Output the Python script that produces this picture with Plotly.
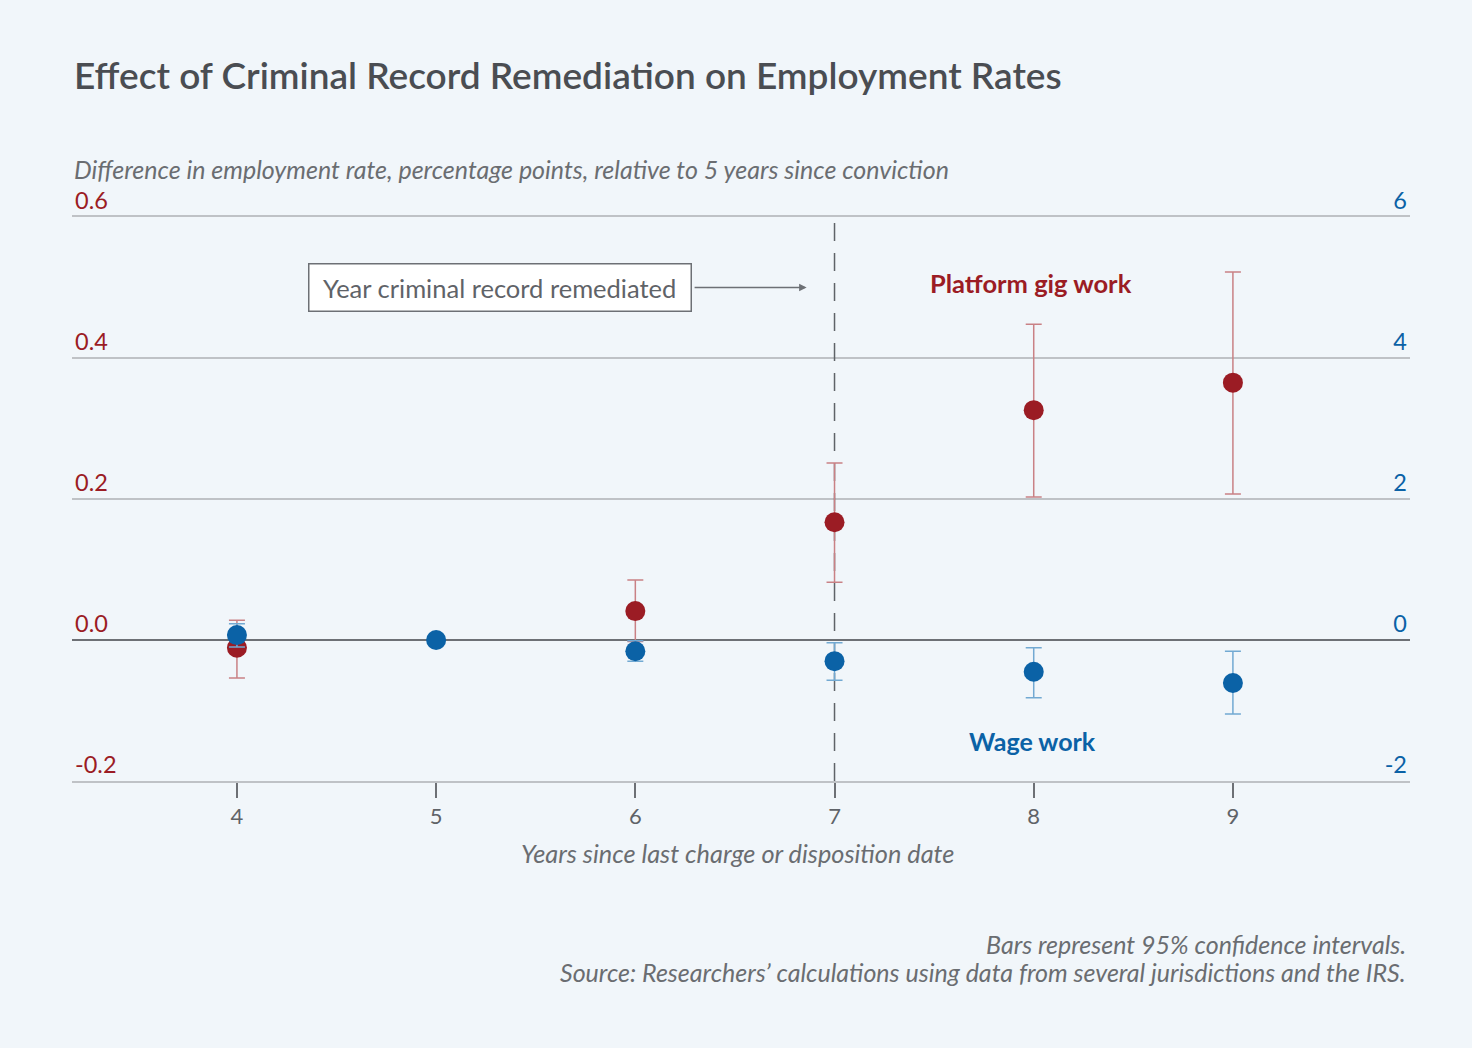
import plotly.graph_objects as go

years = [4, 5, 6, 7, 8, 9]
gig_years = [4, 6, 7, 8, 9]
gig_vals = [-0.011, 0.041, 0.167, 0.326, 0.365]
gig_hi = [0.028, 0.085, 0.251, 0.448, 0.522]
gig_lo = [-0.054, -0.002, 0.082, 0.203, 0.207]

wage_years = [4, 5, 6, 7, 8, 9]
wage_vals = [0.07, 0.0, -0.16, -0.30, -0.45, -0.61]
wage_hi = [0.23, 0.0, -0.01, -0.04, -0.11, -0.16]
wage_lo = [-0.10, 0.0, -0.30, -0.57, -0.82, -1.05]

left_ticks = [-0.2, 0.0, 0.2, 0.4, 0.6]
left_labels = ["-0.2", "0.0", "0.2", "0.4", "0.6"]
right_ticks = [-2, 0, 2, 4, 6]
right_labels = ["-2", "0", "2", "4", "6"]

RED = "#9b1c24"
RED_BAR = "#c98185"
BLUE = "#0b62a6"
BLUE_BAR = "#72a9d2"
GRAY = "#5f6368"
GRID = "#bfc2c6"
BG = "#f1f6fa"
FONT = "Lato, 'Source Sans Pro', sans-serif"

fig = go.Figure()
fig.add_trace(go.Scatter(
    x=gig_years, y=gig_vals, mode="markers", yaxis="y",
    marker=dict(size=20, color=RED),
    error_y=dict(type="data", symmetric=False,
                 array=[h - v for h, v in zip(gig_hi, gig_vals)],
                 arrayminus=[v - l for l, v in zip(gig_lo, gig_vals)],
                 color=RED_BAR, thickness=1.5, width=8),
    showlegend=False, name="Platform gig work"))
wage_bar_plus = [h - v for h, v in zip(wage_hi, wage_vals)]
wage_bar_minus = [v - l for l, v in zip(wage_lo, wage_vals)]
fig.add_trace(go.Scatter(
    x=wage_years, y=wage_vals, mode="markers", yaxis="y2",
    marker=dict(size=20, color=BLUE),
    error_y=dict(type="data", symmetric=False,
                 array=wage_bar_plus, arrayminus=wage_bar_minus,
                 color=BLUE_BAR, thickness=1.5, width=8),
    showlegend=False, name="Wage work"))

fig.add_shape(type="line", xref="x", yref="y", x0=7, x1=7, y0=-0.2, y1=0.6,
              line=dict(color=GRAY, width=1.5, dash="18px,12px"), layer="between")

fig.update_layout(
    width=1472, height=1048,
    paper_bgcolor=BG, plot_bgcolor=BG,
    margin=dict(l=72, r=62, t=217, b=267),
    font=dict(family=FONT, color=GRAY, size=20),
    xaxis=dict(range=[3.172, 9.889], tickvals=years, ticktext=[str(y) for y in years],
               showgrid=False, zeroline=False,
               showline=True, mirror=True, linecolor=GRID, linewidth=1.5,
               ticks="outside", ticklen=15, tickcolor="#6d7075", tickwidth=1.5,
               tickfont=dict(size=22, color=GRAY), ticklabelstandoff=0),
    yaxis=dict(range=[-0.2, 0.6], tickvals=left_ticks, ticktext=left_labels,
               showgrid=True, gridcolor=GRID, gridwidth=1.5,
               zeroline=True, zerolinecolor="#6d7075", zerolinewidth=2,
               ticks="", ticklabelposition="inside top", ticklabeloverflow="allow",
               tickfont=dict(size=23.5, color=RED), showline=False),
    yaxis2=dict(range=[-2, 6], tickvals=right_ticks, ticktext=right_labels,
                overlaying="y", side="right", showgrid=False, zeroline=False,
                ticks="", ticklabelposition="inside top", ticklabeloverflow="allow",
                tickfont=dict(size=23.5, color=BLUE), showline=False),
)

anns = [
    dict(text="Effect of Criminal Record Remediation on Employment Rates", xref="paper", yref="paper",
         x=0, y=1.2518, xanchor="left", yanchor="middle", showarrow=False,
         font=dict(size=37, color="#4a4d52", family="Lato, sans-serif", weight=600)),
    dict(text="<i>Difference in employment rate, percentage points, relative to 5 years since conviction</i>",
         xref="paper", yref="paper", x=0, y=1.085, xanchor="left", yanchor="middle", showarrow=False,
         font=dict(size=25, color="#6a6d71")),
    dict(text="<i>Years since last charge or disposition date</i>", xref="paper", yref="paper",
         x=0.4975, y=-0.1277, xanchor="center", yanchor="middle", showarrow=False,
         font=dict(size=25.3, color="#6a6d71")),
    dict(text="<i>Bars represent 95% confidence intervals.</i>", xref="paper", yref="paper",
         x=0.9985, y=-0.289, xanchor="right", yanchor="middle", showarrow=False,
         font=dict(size=25, color="#6a6d71")),
    dict(text="<i>Source: Researchers’ calculations using data from several jurisdictions and the IRS.</i>",
         xref="paper", yref="paper",
         x=0.9985, y=-0.3387, xanchor="right", yanchor="middle", showarrow=False,
         font=dict(size=25, color="#6a6d71")),
    dict(text="&nbsp;Year criminal record remediated&nbsp;", xref="x", yref="y", x=5.32, y=0.5,
         xanchor="center", yanchor="middle", showarrow=False,
         bgcolor="white", bordercolor="#6d7075", borderwidth=1.5, borderpad=8,
         font=dict(size=25.5, color=GRAY)),
    dict(text="", xref="x", yref="y", x=6.86, y=0.5, axref="x", ayref="y", ax=6.29, ay=0.5,
         showarrow=True, arrowhead=2, arrowsize=1, arrowwidth=1.5, arrowcolor="#6d7075"),
    dict(text="<b>Platform gig work</b>", xref="x", yref="y", x=7.986, y=0.506,
         xanchor="center", yanchor="middle", showarrow=False, font=dict(size=25.5, color=RED)),
    dict(text="<b>Wage work</b>", xref="x", yref="y2", x=7.996, y=-1.43,
         xanchor="center", yanchor="middle", showarrow=False, font=dict(size=25, color=BLUE)),
]
fig.update_layout(annotations=anns)

fig.write_html("out.html", config={"displayModeBar": False},
               post_script="document.body.style.margin='0px';")
